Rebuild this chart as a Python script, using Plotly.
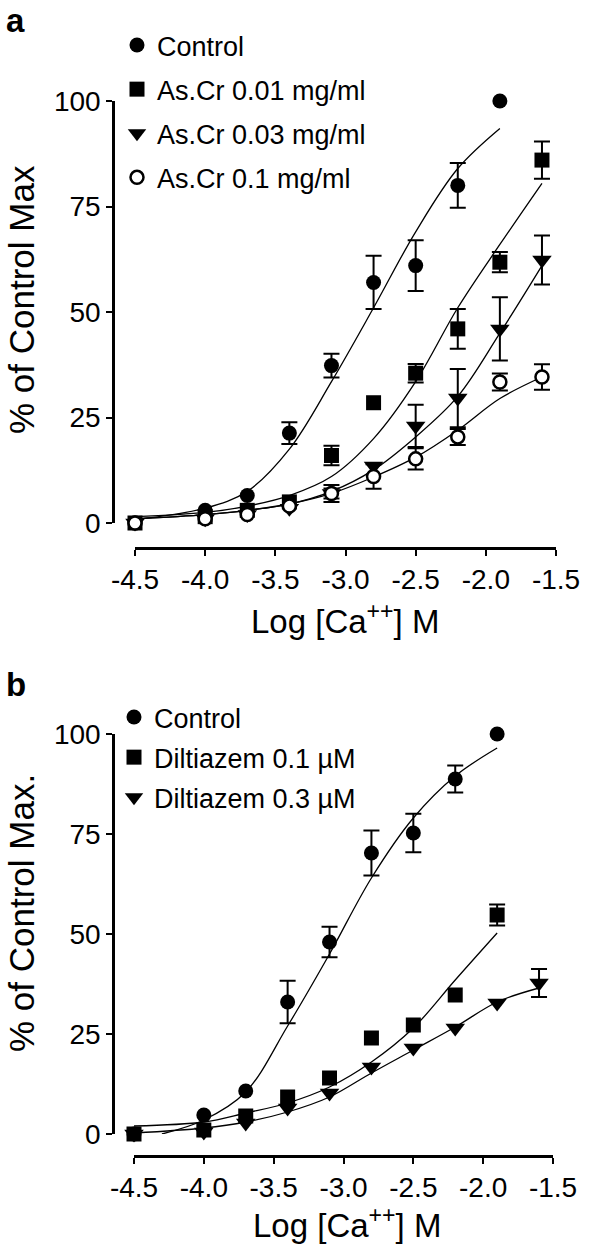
import plotly.graph_objects as go

FONT = "Liberation Sans, Arial, sans-serif"

# ---------------- data: panel a ----------------
x_conc = [-4.5, -4.0, -3.7, -3.4, -3.1, -2.8, -2.5, -2.2, -1.9, -1.6]
tick_vals_x = [-4.5, -4.0, -3.5, -3.0, -2.5, -2.0, -1.5]
tick_text_x = ["-4.5", "-4.0", "-3.5", "-3.0", "-2.5", "-2.0", "-1.5"]
tick_vals_y = [0, 25, 50, 75, 100]
tick_text_y = ["0", "25", "50", "75", "100"]

a_control = [0, 3, 6.5, 21.3, 37.3, 57, 61, 80, 100]
a_control_err = [0, 0, 0, 2.6, 2.8, 6.3, 6.0, 5.3, 0]
a_asc001 = [0, 1.5, 3, 5, 16, 28.5, 35.5, 46, 61.8, 86]
a_asc001_err = [0, 0, 0, 0, 2.3, 0, 2.2, 4.7, 2.4, 4.4]
a_asc003 = [0, 1, 2, 3.5, 7, 13.5, 23, 29.6, 46, 62.3]
a_asc003_err = [0, 0, 0, 0, 1.2, 0, 5, 6.9, 7.5, 5.8]
a_asc01 = [0, 1, 2, 4, 7, 11, 15.2, 20.4, 33.4, 34.6]
a_asc01_err = [0, 0, 0, 0, 2.0, 2.9, 2.5, 1.9, 2.0, 3.0]

a_control_fit = [0.8, 3.5, 7.5, 17.5, 33.5, 51, 69, 84, 93.5]
a_asc001_fit = [1.5, 2.5, 4, 6.5, 11, 20, 33.5, 51, 66, 80.5]
a_asc003_fit = [1, 2, 3, 4.5, 7.5, 12.6, 20.4, 30, 45, 61]
a_asc01_fit = [1, 2, 3, 4.5, 7, 10.9, 15.6, 22, 29.5, 34.6]

# ---------------- data: panel b ----------------
b_control = [0, 4.75, 10.75, 33, 48, 70.25, 75.25, 88.75, 100]
b_control_err = [0, 0, 0, 5.3, 3.8, 5.6, 4.8, 3.4, 0]
b_dil01 = [0, 1, 4.5, 9.25, 14, 24, 27.25, 34.75, 54.75]
b_dil01_err = [0, 0, 0, 0, 0, 0, 0, 0, 2.6]
b_dil03 = [0, 0.5, 2.75, 6.5, 10.25, 16.75, 21.5, 26.5, 32.75, 37.75]
b_dil03_err = [0, 0, 0, 0, 0, 0, 0, 0, 0, 3.5]

b_control_fit_x = [-4.3, -4.0, -3.7, -3.4, -3.1, -2.8, -2.5, -2.2, -1.9]
b_control_fit = [0, 3.5, 10.5, 27, 45, 64, 79, 89.5, 96.5]
b_dil01_fit = [2, 3, 5.25, 7.75, 11.75, 18, 26.5, 38.5, 50.25]
b_dil03_fit = [0.25, 1.5, 3, 5.5, 9.25, 15.25, 21, 26.75, 33, 36.5]

fig = go.Figure()


def add_series(xs, ys, errs, fit_x, fit_y, name, symbol, size, xa, ya, legend,
               fill="black", group=None):
    # fitted curve
    fig.add_trace(go.Scatter(
        x=fit_x, y=fit_y, mode="lines", line=dict(color="black", width=1.3, shape="spline"),
        xaxis=xa, yaxis=ya, showlegend=False, hoverinfo="skip"))
    # error bars (only points with a visible bar)
    ex = [x for x, e in zip(xs, errs) if e > 0]
    ey = [y for y, e in zip(ys, errs) if e > 0]
    ee = [e for e in errs if e > 0]
    if ex:
        fig.add_trace(go.Scatter(
            x=ex, y=ey, mode="markers", marker=dict(size=1, opacity=0),
            error_y=dict(type="data", array=ee, visible=True, color="black",
                         thickness=2, width=8),
            xaxis=xa, yaxis=ya, showlegend=False, hoverinfo="skip", cliponaxis=False))
    # markers
    fig.add_trace(go.Scatter(
        x=xs[:len(ys)], y=ys, mode="markers", name=name,
        marker=dict(symbol=symbol, size=size, color=fill,
                    line=dict(color="black", width=2.5 if fill == "white" else 0)),
        xaxis=xa, yaxis=ya, legend=legend, legendgroup=group or name,
        cliponaxis=False))


# panel a
add_series(x_conc[:9], a_control, a_control_err, x_conc[:9], a_control_fit,
           "Control", "circle", 15, "x", "y", "legend", group="a1")
add_series(x_conc, a_asc001, a_asc001_err, x_conc, a_asc001_fit,
           "As.Cr 0.01 mg/ml", "square", 15, "x", "y", "legend", group="a2")
add_series(x_conc, a_asc003, a_asc003_err, x_conc, a_asc003_fit,
           "As.Cr 0.03 mg/ml", "triangle-down", 17, "x", "y", "legend", group="a3")
add_series(x_conc, a_asc01, a_asc01_err, x_conc, a_asc01_fit,
           "As.Cr 0.1 mg/ml", "circle", 13, "x", "y", "legend", fill="white", group="a4")

# panel b
add_series(x_conc[:9], b_control, b_control_err, b_control_fit_x, b_control_fit,
           "Control", "circle", 15, "x2", "y2", "legend2", group="b1")
add_series(x_conc[:9], b_dil01, b_dil01_err, x_conc[:9], b_dil01_fit,
           "Diltiazem 0.1 µM", "square", 15, "x2", "y2", "legend2", group="b2")
add_series(x_conc, b_dil03, b_dil03_err, x_conc, b_dil03_fit,
           "Diltiazem 0.3 µM", "triangle-down", 17, "x2", "y2", "legend2", group="b3")

W, H = 600, 1250


def px(v):
    return v / W


def py(v):
    return 1 - v / H


axis_common = dict(showline=True, linecolor="black", linewidth=2.5, ticks="outside",
                   ticklen=6, tickwidth=2, tickcolor="black", showgrid=False,
                   zeroline=False, tickfont=dict(family=FONT, size=28, color="black"),
                   anchor="free", automargin=False)

fig.update_layout(
    template="none",
    width=W, height=H, margin=dict(l=0, r=0, t=0, b=0, pad=0, autoexpand=False),
    paper_bgcolor="white", plot_bgcolor="white",
    font=dict(family=FONT, color="black"),
    xaxis=dict(domain=[px(135), px(556)], range=[-4.5, -1.5], position=py(548),
               tickvals=tick_vals_x, ticktext=tick_text_x, **axis_common),
    yaxis=dict(domain=[py(523), py(101)], range=[0, 100], position=px(113),
               tickvals=tick_vals_y, ticktext=tick_text_y, **axis_common),
    xaxis2=dict(domain=[px(134), px(553)], range=[-4.5, -1.5], position=py(1156),
                tickvals=tick_vals_x, ticktext=tick_text_x, **axis_common),
    yaxis2=dict(domain=[py(1134), py(734)], range=[0, 100], position=px(113),
                tickvals=tick_vals_y, ticktext=tick_text_y, **axis_common),
    legend=dict(x=px(117), y=py(21), xanchor="left", yanchor="top",
                font=dict(family=FONT, size=27, color="black"),
                bgcolor="rgba(0,0,0,0)", tracegroupgap=6, traceorder="grouped",
                itemsizing="trace"),
    legend2=dict(x=px(114), y=py(693), xanchor="left", yanchor="top",
                 font=dict(family=FONT, size=27, color="black"),
                 bgcolor="rgba(0,0,0,0)", tracegroupgap=2, traceorder="grouped",
                 itemsizing="trace"),
    showlegend=True,
)

annotations = [
    dict(text="<b>a</b>", x=px(4), y=py(20), xanchor="left", yanchor="middle",
         font=dict(size=33)),
    dict(text="<b>b</b>", x=px(4), y=py(684), xanchor="left", yanchor="middle",
         font=dict(size=33)),
    dict(text="Log [Ca<sup>++</sup>] M", x=px(345), y=py(619), xanchor="center",
         yanchor="middle", font=dict(size=33)),
    dict(text="Log [Ca<sup>++</sup>] M", x=px(347), y=py(1223), xanchor="center",
         yanchor="middle", font=dict(size=33)),
    dict(text="% of Control Max", x=px(21), y=py(300), xanchor="center",
         yanchor="middle", textangle=-90, font=dict(size=35)),
    dict(text="% of Control Max.", x=px(21), y=py(913), xanchor="center",
         yanchor="middle", textangle=-90, font=dict(size=35)),
]
for a in annotations:
    a.update(xref="paper", yref="paper", showarrow=False)
    a["font"].update(family=FONT, color="black")
fig.update_layout(annotations=annotations)

# remove the default 8px page margin so the figure fills the window exactly
fig.write_html("out.html", config={"displayModeBar": False},
               post_script="document.body.style.margin='0';")
